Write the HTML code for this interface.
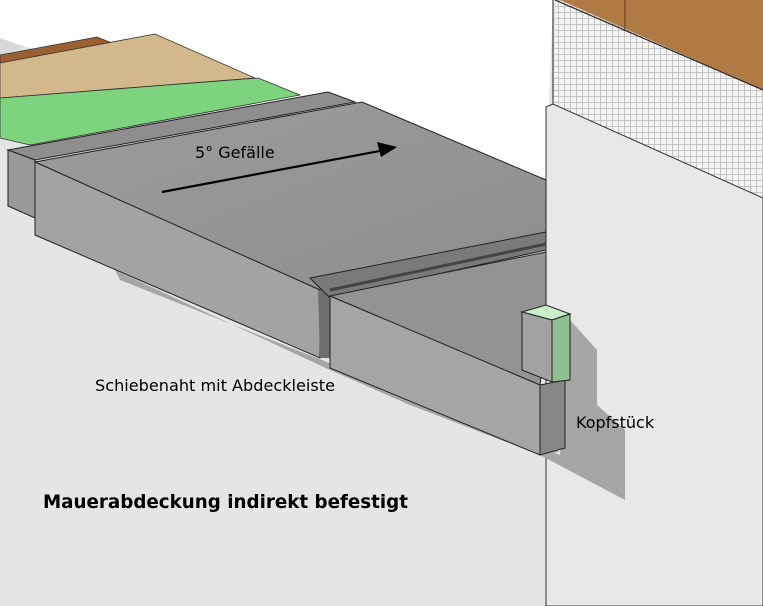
<!DOCTYPE html>
<html><head><meta charset="utf-8"><style>
html,body{margin:0;padding:0;background:#e5e5e5;}
svg{display:block;font-family:"DejaVu Sans","Liberation Sans",sans-serif;}
</style></head><body>
<svg width="763" height="606" viewBox="0 0 763 606" xmlns="http://www.w3.org/2000/svg">
<defs>
<pattern id="mesh" width="6" height="6" patternUnits="userSpaceOnUse">
<rect width="6" height="6" fill="#f4f4f4"/>
<path d="M0 0.5H6M0.5 0V6" stroke="#c4c4c4" stroke-width="1"/>
</pattern>
<linearGradient id="top" x1="0" y1="0" x2="1" y2="1">
<stop offset="0" stop-color="#9c9c9c"/><stop offset="1" stop-color="#8e8e8e"/>
</linearGradient>
</defs>
<rect width="763" height="606" fill="#e5e5e5"/>
<polygon points="0,0 553,0 546,180 0,40" fill="#ffffff"/>
<!-- wall -->
<polygon points="556,0 763,0 763,200 553,108" fill="url(#mesh)"/>
<polygon points="560,0 763,0 763,90" fill="#b07a45"/>
<line x1="625" y1="0" x2="625" y2="30" stroke="#5a3a1e"/>
<line x1="555" y1="0" x2="763" y2="90" stroke="#222" stroke-width="1.2"/>
<line x1="553" y1="0" x2="553" y2="108" stroke="#222"/>
<polygon points="546,107 553,104 763,198 763,606 546,606" fill="#e8e8e8" stroke="#333" stroke-width="1"/>
<!-- shadows -->
<polygon points="115,270 330,370 410,405 540,455 625,500 625,430 597,405 597,350 570,320 560,455 410,395 120,280" fill="#a6a6a6"/>
<polygon points="330,368 540,455 560,452 420,395" fill="#b0b0b0"/>
<!-- background boards -->
<polygon points="0,38 25,47 0,55" fill="#d8d8d8"/>
<polygon points="0,55 97,37 112,43 0,65" fill="#9a6032" stroke="#333" stroke-width="0.8"/>
<polygon points="0,63 155,34 255,78 0,98" fill="#d2b88a" stroke="#333" stroke-width="0.8"/>
<polygon points="0,98 258,78 300,95 30,145 0,138" fill="#7ed37e" stroke="#333" stroke-width="0.8"/>
<!-- rear slab -->
<polygon points="8,150 328,92 355,102 35,160" fill="#8e8e8e" stroke="#222" stroke-width="1"/>
<polygon points="8,150 35,160 35,218 8,206" fill="#9a9a9a" stroke="#222" stroke-width="1"/>
<!-- main slab -->
<polygon points="35,162 362,102 546,180 546,233 318,290" fill="url(#top)" stroke="#222" stroke-width="1"/>
<polygon points="35,162 320,290 320,358 35,235" fill="#a3a3a3" stroke="#222" stroke-width="1"/>
<polygon points="318,290 330,290 330,358 320,358" fill="#6e6e6e"/>
<!-- joint strip -->
<polygon points="310,278 546,232 546,250 330,298" fill="#7a7a7a" stroke="#222" stroke-width="1"/>
<line x1="330" y1="290" x2="546" y2="244" stroke="#444" stroke-width="3"/>
<!-- second slab -->
<polygon points="330,296 546,252 546,335 540,385" fill="#939393" stroke="#222" stroke-width="1"/>
<polygon points="330,296 540,385 540,455 330,368" fill="#a5a5a5" stroke="#222" stroke-width="1"/>
<polygon points="540,385 565,380 565,448 540,455" fill="#878787" stroke="#222" stroke-width="1"/>
<!-- Kopfstueck -->
<polygon points="522,312 546,305 570,314 552,320" fill="#c8f0c8" stroke="#222" stroke-width="1"/>
<polygon points="522,312 552,320 552,382 522,370" fill="#a2a2a2" stroke="#222" stroke-width="1"/>
<polygon points="552,320 570,314 570,380 552,382" fill="#8fbf8f" stroke="#222" stroke-width="1"/>
<!-- arrow -->
<line x1="162" y1="192" x2="385" y2="150" stroke="#000" stroke-width="2.2"/>
<polygon points="397,147 377,142 381,157" fill="#000"/>
<text x="195" y="158" font-size="16" fill="#000">5° Gefälle</text>
<text x="95" y="391" font-size="16" fill="#000" textLength="240" lengthAdjust="spacingAndGlyphs">Schiebenaht mit Abdeckleiste</text>
<text x="576" y="428" font-size="16" fill="#000">Kopfstück</text>
<text x="43" y="508" font-size="19" font-weight="bold" fill="#000" textLength="365" lengthAdjust="spacingAndGlyphs">Mauerabdeckung indirekt befestigt</text>
</svg>
</body></html>
